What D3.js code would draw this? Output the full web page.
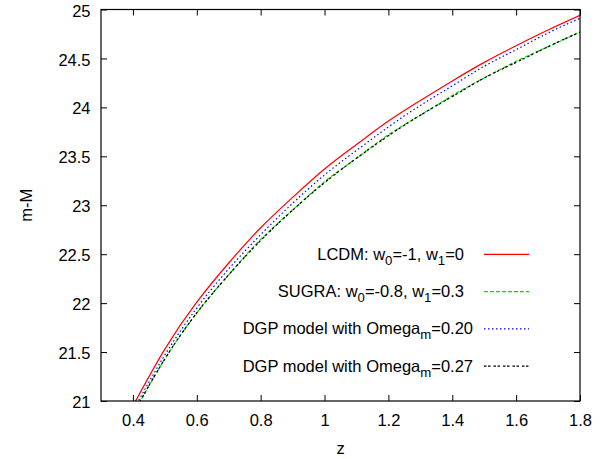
<!DOCTYPE html>
<html><head><meta charset="utf-8">
<script src="https://cdn.jsdelivr.net/npm/d3@7"></script>
<style>
body{margin:0;background:#fff}
svg{display:block}
text{font-family:"Liberation Sans",Arial,Helvetica,sans-serif;fill:#000}
</style>
</head><body>
<svg id="chart" width="609" height="459"></svg>
<script>
// ---- data ----
const redshift = [0.4,0.5,0.6,0.7,0.8,0.9,1.0,1.1,1.2,1.3,1.4,1.5,1.6,1.7,1.8];
const lcdm     = [20.95,21.53,22.01,22.41,22.77,23.08,23.37,23.62,23.86,24.07,24.27,24.46,24.63,24.79,24.94];
const sugra    = [20.86,21.43,21.90,22.29,22.65,22.95,23.24,23.48,23.72,23.92,24.12,24.30,24.47,24.62,24.77];
const dgp020   = [20.90,21.47,21.95,22.35,22.70,23.02,23.31,23.56,23.80,24.02,24.22,24.42,24.59,24.76,24.91];
const dgp027   = [20.87,21.43,21.90,22.29,22.64,22.95,23.23,23.48,23.71,23.92,24.11,24.30,24.46,24.62,24.77];
const legendLabels = [
  "LCDM: w_{0}=-1, w_{1}=0",
  "SUGRA: w_{0}=-0.8, w_{1}=0.3",
  "DGP model with Omega_{m}=0.20",
  "DGP model with Omega_{m}=0.27"
];
const xTicks = [0.4,0.6,0.8,1,1.2,1.4,1.6,1.8];
const yTicks = [21,21.5,22,22.5,23,23.5,24,24.5,25];
const xDomain = [0.3,1.8];
const yDomain = [21,25];
const xTitle = "z";
const yTitle = "m-M";

// ---- drawing ----
const svg = d3.select("#chart");
svg.append("rect").attr("width",609).attr("height",459).attr("fill","#fff");
const L = 101, R = 580, T = 9.5, B = 401;
const x = d3.scaleLinear().domain(xDomain).range([L, R]);
const y = d3.scaleLinear().domain(yDomain).range([B, T]);
const FS = 16.5;

const styles = [
  {color:"#ff0000", dash:null},
  {color:"#00dd00", dash:"4,2"},
  {color:"#0000ff", dash:"1.5,2.5"},
  {color:"#000000", dash:"2.5,1.5,2.5,3"}
];
const seriesVals = [lcdm, sugra, dgp020, dgp027];

// clip
svg.append("clipPath").attr("id","clip").append("rect")
  .attr("x",L).attr("y",T).attr("width",R-L).attr("height",B-T);

const line = d3.line().x(d=>x(d[0])).y(d=>y(d[1])).curve(d3.curveNatural);
const plot = svg.append("g").attr("clip-path","url(#clip)");
seriesVals.forEach((vals,i)=>{
  const pts = redshift.map((zz,k)=>[zz, vals[k]]);
  plot.append("path").datum(pts).attr("d",line)
    .attr("fill","none").attr("stroke",styles[i].color).attr("stroke-width",1.2)
    .attr("stroke-dasharray",styles[i].dash);
});

// axes
const gx = svg.append("g").attr("transform",`translate(0,${B})`)
  .call(d3.axisBottom(x).tickValues(xTicks).tickFormat(d3.format("")).tickSize(-6).tickPadding(13.5));
const gxt = svg.append("g").attr("transform",`translate(0,${T})`)
  .call(d3.axisTop(x).tickValues(xTicks).tickFormat("").tickSize(-6));
const gy = svg.append("g").attr("transform",`translate(${L},0)`)
  .call(d3.axisLeft(y).tickValues(yTicks).tickFormat(d3.format("")).tickSize(-6).tickPadding(10.5));
const gyr = svg.append("g").attr("transform",`translate(${R},0)`)
  .call(d3.axisRight(y).tickValues(yTicks).tickFormat("").tickSize(-6));
[gx,gxt,gy,gyr].forEach(g=>{
  g.select(".domain").remove();
  g.selectAll(".tick line").attr("stroke","#000").attr("stroke-width",1);
  g.selectAll(".tick text").attr("font-size",FS).attr("font-family","Liberation Sans, Arial, sans-serif").attr("fill","#000");
});
gy.selectAll(".tick text").attr("dy","0.4em");

// frame
svg.append("rect").attr("x",L).attr("y",T).attr("width",R-L).attr("height",B-T)
  .attr("fill","none").attr("stroke","#000").attr("stroke-width",1.2);

// titles
svg.append("text").attr("x",(L+R)/2).attr("y",454).attr("text-anchor","middle")
  .attr("font-size",FS).text(xTitle);
svg.append("text").attr("transform",`translate(31.5,${(T+B)/2}) rotate(-90)`)
  .attr("text-anchor","middle").attr("font-size",FS).text(yTitle);

// legend
const legEnds = [464,464,473,473];
legendLabels.forEach((lab,i)=>{
  const ly = 254.3 + i*37.3;
  svg.append("line").attr("x1",484).attr("x2",529).attr("y1",ly).attr("y2",ly)
    .attr("stroke",styles[i].color).attr("stroke-width",1.2)
    .attr("stroke-dasharray",styles[i].dash);
  const t = svg.append("text").attr("x",legEnds[i]).attr("y",ly+5.5)
    .attr("text-anchor","end").attr("font-size",FS);
  const parts = lab.split(/(_\{[^}]*\})/).filter(s=>s.length);
  let shifted = false;
  parts.forEach(p=>{
    if (p.startsWith("_{")) {
      t.append("tspan").attr("dy",5).attr("font-size",FS*0.8).text(p.slice(2,-1));
      shifted = true;
    } else {
      const ts = t.append("tspan").text(p);
      if (shifted) { ts.attr("dy",-5); shifted=false; }
    }
  });
});
</script>
</body></html>
